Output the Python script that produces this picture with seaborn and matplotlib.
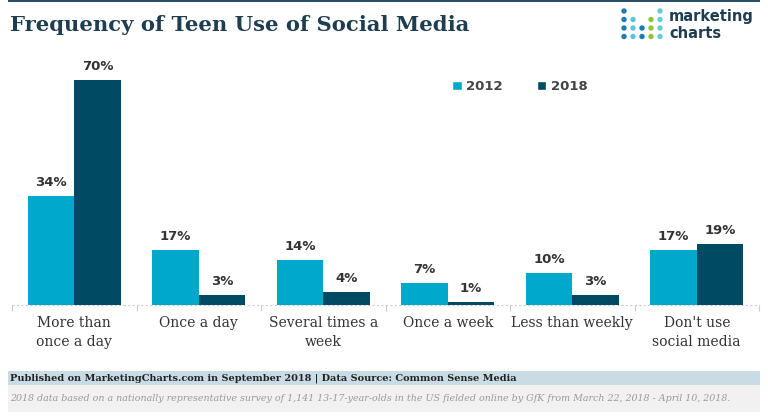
import pandas as pd
import seaborn as sns
import matplotlib.pyplot as plt
from matplotlib.patches import Rectangle, Patch, Ellipse

categories = ['More than\nonce a day', 'Once a day', 'Several times a\nweek',
              'Once a week', 'Less than weekly', "Don't use\nsocial media"]
years = ['2012', '2018']
share_2012 = [34, 17, 14, 7, 10, 17]
share_2018 = [70, 3, 4, 1, 3, 19]

colors = {'2012': '#00a8cb', '2018': '#004a63'}
navy = '#1e3d50'

df = pd.DataFrame({
    'category': categories * 2,
    'year': ['2012'] * len(categories) + ['2018'] * len(categories),
    'share': share_2012 + share_2018,
})

sns.set_theme(style='white')
plt.rcParams['font.family'] = ['DejaVu Sans']

W, H = 768, 419
fig = plt.figure(figsize=(W / 100, H / 100), dpi=100)
fig.patch.set_facecolor('white')

ax = fig.add_axes([12 / W, 1 - 305 / H, 747 / W, 235 / H])
sns.barplot(data=df, x='category', y='share', hue='year', order=categories,
            hue_order=years, palette=colors, width=0.75, gap=0,
            saturation=1, edgecolor='none', legend=False, ax=ax)
ax.set_xlim(-0.5, len(categories) - 0.5)
ax.set_ylim(0, 73.2)
ax.set_xlabel('')
ax.set_ylabel('')
ax.set_yticks([])
for s in ax.spines.values():
    s.set_visible(False)

# dashed baseline with small separators between groups
ax.axhline(0, color='#cccccc', lw=0.8, ls=(0, (2, 2)), zorder=0, clip_on=False)
ax.set_xticks([i - 0.5 for i in range(len(categories) + 1)], minor=True)
ax.tick_params(axis='x', which='minor', length=4, color='#cccccc', width=0.8,
               direction='out', bottom=True)
ax.tick_params(axis='x', which='major', length=0, pad=8)
ax.set_xticklabels(categories, fontsize=10, color='#333333',
                   family='DejaVu Serif', linespacing=1.45)
for lab in ax.get_xticklabels():
    lab.set_verticalalignment('top')

for cont in ax.containers:
    ax.bar_label(cont, labels=[f'{v:.0f}%' for v in cont.datavalues],
                 padding=5, fontsize=9.5, fontweight='bold', color='#333333')

handles = [Patch(facecolor=colors[y], label=y) for y in years]
leg = fig.legend(handles=handles, loc='center', bbox_to_anchor=(520 / W, 1 - 87 / H),
                 ncol=2, frameon=False, handlelength=0.7, handleheight=0.7,
                 handletextpad=0.35, columnspacing=2.6, fontsize=9.5)
for t in leg.get_texts():
    t.set_color('#444444')
    t.set_fontweight('bold')

# header
fig.add_artist(Rectangle((8 / W, 1 - 2.5 / H), 752 / W, 2.5 / H,
                         transform=fig.transFigure, color='#2b5068', lw=0))
fig.text(10 / W, 1 - 25 / H, 'Frequency of Teen Use of Social Media',
         fontsize=15.2, fontweight='bold', color=navy, family='DejaVu Serif',
         va='center', ha='left')

# logo
dot_cols = [624, 633, 642, 651, 660]
dot_rows = [11, 19.5, 28, 36.5]
dot_colors = ['#1c7bb0', '#5cc6d6', '#1c7bb0', '#8cc63f', '#5fd0d8']
dot_start = [0, 1, 2, 1, 0]
for cx, col, st in zip(dot_cols, dot_colors, dot_start):
    for ry in dot_rows[st:]:
        fig.add_artist(Ellipse((cx / W, 1 - ry / H), 5.4 / W, 5.4 / H,
                               transform=fig.transFigure, color=col, lw=0))
fig.text(669 / W, 1 - 17 / H, 'marketing', fontsize=10.5, fontweight='bold',
         color=navy, va='center', ha='left')
fig.text(669 / W, 1 - 33 / H, 'charts', fontsize=10.5, fontweight='bold',
         color=navy, va='center', ha='left')

# footer
fig.add_artist(Rectangle((8 / W, 1 - 385 / H), 752 / W, 14 / H,
                         transform=fig.transFigure, color='#c9dbe5', lw=0))
fig.add_artist(Rectangle((8 / W, 1 - 412 / H), 752 / W, 27 / H,
                         transform=fig.transFigure, color='#f1f1f1', lw=0))
fig.text(10 / W, 1 - 378 / H,
         'Published on MarketingCharts.com in September 2018 | Data Source: Common Sense Media',
         fontsize=7.0, fontweight='bold', color='#222222', family='DejaVu Serif',
         va='center', ha='left')
fig.text(10 / W, 1 - 398 / H,
         '2018 data based on a nationally representative survey of 1,141 13-17-year-olds in the US '
         'fielded online by GfK from March 22, 2018 - April 10, 2018.',
         fontsize=6.8, style='italic', color='#9a9a9a', family='DejaVu Serif',
         va='center', ha='left')

fig.savefig('out.png', dpi=100)
